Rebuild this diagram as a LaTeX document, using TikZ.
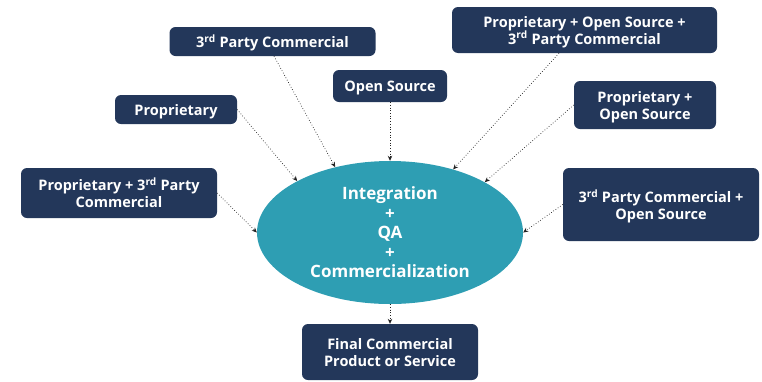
\documentclass[tikz,border=0pt]{standalone}
\usepackage{fontspec}
\setmainfont{Open Sans}
\usetikzlibrary{arrows.meta,shapes.geometric}
\definecolor{navy}{HTML}{23375A}
\definecolor{teal}{HTML}{2E9EB3}
\definecolor{conn}{HTML}{222222}
\tikzset{
  srcbox/.style={fill=navy, rounded corners=6pt, text=white, align=center,
    font=\bfseries\fontsize{14.5}{17}\selectfont, inner sep=0pt, text depth=0pt},
  hub/.style={ellipse, fill=teal, text=white, align=center, inner sep=0pt,
    font=\bfseries\fontsize{17}{19.5}\selectfont, minimum width=266pt, minimum height=143pt},
  conn/.style={draw=conn, dotted, line width=0.7pt, -{Stealth[length=5pt,width=4.5pt]}}
}
\begin{document}
\begin{tikzpicture}[x=1pt,y=-1pt]
\useasboundingbox (0,0) rectangle (762,381);
\node[hub] (ell) at (390,232.5) {Integration\\+\\QA\\+\\Commercialization};
\node[srcbox, minimum width=206pt, minimum height=29pt] (tpc) at (272.5,41.5) {3\textsuperscript{rd} Party Commercial};
\node[srcbox, minimum width=122pt, minimum height=29pt] (prop) at (176,109.5) {Proprietary};
\node[srcbox, minimum width=114pt, minimum height=32pt] (os) at (390,86) {Open Source};
\node[srcbox, minimum width=265pt, minimum height=46pt] (pos3) at (584.5,30) {Proprietary + Open Source +\\3\textsuperscript{rd} Party Commercial};
\node[srcbox, minimum width=142pt, minimum height=48pt] (pos) at (645,105) {Proprietary +\\Open Source};
\node[srcbox, minimum width=196pt, minimum height=50pt] (p3) at (119,193) {Proprietary + 3\textsuperscript{rd} Party\\Commercial};
\node[srcbox, minimum width=196pt, minimum height=73pt] (tpcos) at (661,204.5) {3\textsuperscript{rd} Party Commercial +\\Open Source};
\node[srcbox, minimum width=176pt, minimum height=56pt] (final) at (390,352) {Final Commercial\\Product or Service};
\draw[conn] ([xshift=1.5pt]tpc.south) -- (ell.130.3);
\draw[conn] (prop.east) -- (ell.151.5);
\draw[conn] (os.south) -- (ell.90);
\draw[conn] ([xshift=-25.5pt]pos3.south) -- (ell.45.2);
\draw[conn] (pos.west) -- (ell.28.7);
\draw[conn] (p3.east) -- (ell.180);
\draw[conn] (tpcos.west) -- (ell.0);
\draw[conn] (ell.south) -- (final.north);
\end{tikzpicture}
\end{document}
